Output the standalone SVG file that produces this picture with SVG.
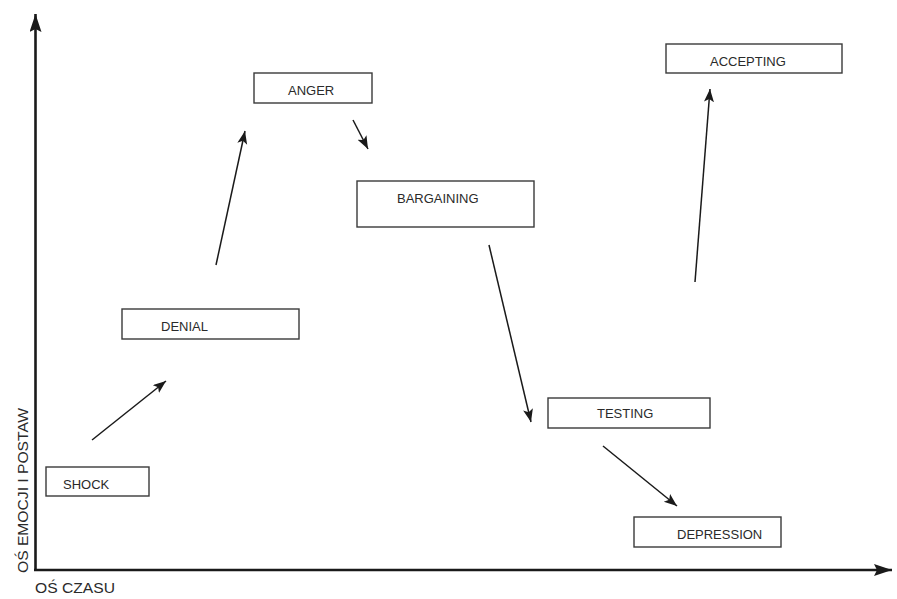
<svg xmlns="http://www.w3.org/2000/svg" width="897" height="599" viewBox="0 0 897 599">
<style>
.box{fill:#fff;stroke:#3a3a3a;stroke-width:1.4}
.lbl{font-family:"Liberation Sans",Arial,sans-serif;font-size:13px;fill:#2a2a2a}
.axis{stroke:#1a1a1a;stroke-width:2.6;fill:none}
.conn{stroke:#1a1a1a;stroke-width:1.5;fill:none;marker-end:url(#ah)}
</style>
<defs>
<marker id="ah" markerUnits="userSpaceOnUse" markerWidth="14" markerHeight="12" refX="13" refY="5" orient="auto">
<path d="M0,0 L13,5 L0,10 L3,5 Z" fill="#1a1a1a"/>
</marker>
<marker id="axh" markerUnits="userSpaceOnUse" markerWidth="20" markerHeight="14" refX="18" refY="6" orient="auto">
<path d="M0,0 L18,6 L0,12 L3,6 Z" fill="#1a1a1a"/>
</marker>
</defs>
<rect width="897" height="599" fill="#fff"/>
<g id="axes">
<path class="axis" d="M35.5,571 L35.5,14" marker-end="url(#axh)"/>
<path class="axis" d="M34,570 L892,570" marker-end="url(#axh)"/>
<text class="lbl" x="35" y="593" textLength="80" lengthAdjust="spacingAndGlyphs" style="font-size:14px">OŚ CZASU</text>
<text class="lbl" transform="translate(28,573) rotate(-90)" x="0" y="0" textLength="165" lengthAdjust="spacingAndGlyphs" style="font-size:14px">OŚ EMOCJI I POSTAW</text>
</g>
<g id="connectors">
<line class="conn" x1="92" y1="440" x2="166" y2="381"/>
<line class="conn" x1="216" y1="265" x2="245" y2="131"/>
<line class="conn" x1="353" y1="120" x2="368" y2="149"/>
<line class="conn" x1="489" y1="245" x2="531" y2="422"/>
<line class="conn" x1="603" y1="446" x2="677" y2="506"/>
<line class="conn" x1="695" y1="282" x2="710" y2="89"/>
</g>
<g id="shock"><rect class="box" x="46" y="467" width="103" height="29"/><text class="lbl" x="63" y="489">SHOCK</text></g>
<g id="denial"><rect class="box" x="122" y="309" width="177" height="30"/><text class="lbl" x="161" y="331">DENIAL</text></g>
<g id="anger"><rect class="box" x="254" y="73" width="118" height="30"/><text class="lbl" x="288" y="95">ANGER</text></g>
<g id="bargaining"><rect class="box" x="357" y="181" width="177" height="46"/><text class="lbl" x="397" y="203">BARGAINING</text></g>
<g id="testing"><rect class="box" x="548" y="398" width="162" height="30"/><text class="lbl" x="597" y="418">TESTING</text></g>
<g id="depression"><rect class="box" x="634" y="517" width="147" height="30"/><text class="lbl" x="677" y="539">DEPRESSION</text></g>
<g id="accepting"><rect class="box" x="666" y="44" width="176" height="29"/><text class="lbl" x="710" y="66">ACCEPTING</text></g>
</svg>
